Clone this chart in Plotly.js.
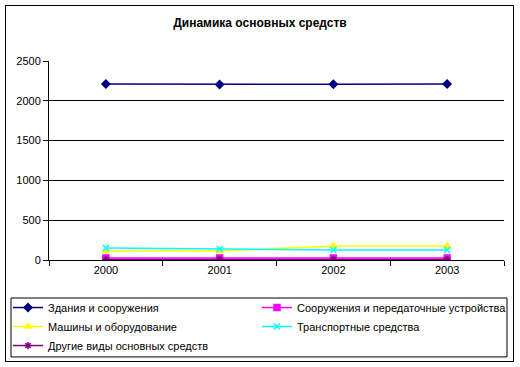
<!DOCTYPE html>
<html><head><meta charset="utf-8">
<script src="https://cdn.plot.ly/plotly-3.0.1.min.js"></script>
<style>body{margin:0;background:#fff}#wrap{position:relative;width:520px;height:367px}#chart{width:520px;height:367px}#frame{position:absolute;left:5px;top:5px;width:507px;height:355px;border:1px solid #000;pointer-events:none}</style>
</head><body><div id="wrap"><div id="chart"></div><div id="frame"></div></div>
<script>
const years = ['2000','2001','2002','2003'];
const seriesNames = ['Здания и сооружения','Сооружения и передаточные устройства','Машины и оборудование','Транспортные средства','Другие виды основных средств'];
const buildings = [2210, 2205, 2208, 2210];
const structures = [25, 25, 25, 25];
const machines = [112, 112, 175, 175];
const transport = [150, 138, 125, 125];
const other = [5, 5, 5, 5];
const yTicks = [0, 500, 1000, 1500, 2000, 2500];

const colors = ['#000080','#FF00FF','#FFFF00','#00FFFF','#800080'];
const symbols = ['diamond','square','triangle-up','x-thin-open','asterisk-open'];
const vals = [buildings, structures, machines, transport, other];
const traces = vals.map((v,i)=>({
  x: years, y: v, name: seriesNames[i], type:'scatter', mode:'lines+markers',
  line:{color:colors[i], width:1.5},
  marker:{symbol:symbols[i], color:colors[i], size:6, line:{color:colors[i], width:1.5}}
}));
const layout = {
  width:520, height:367,
  margin:{l:49, r:16, t:61, b:107, autoexpand:false},
  paper_bgcolor:'#fff', plot_bgcolor:'#fff',
  font:{family:'Liberation Sans, Arial, sans-serif', size:11, color:'#000'},
  title:{text:'<b>Динамика основных средств</b>', x:0.5, xref:'container', xanchor:'center', y:0.937, yref:'container', yanchor:'middle', font:{size:12}},
  showlegend:true,
  legend:{orientation:'h', x:-0.0901, xanchor:'left', y:-0.166, yanchor:'top', entrywidth:204, entrywidthmode:'pixels',
    bgcolor:'rgba(0,0,0,0)', borderwidth:0, font:{size:11}, tracegroupgap:0, itemwidth:30},
  shapes:[{type:'rect', xref:'paper', yref:'paper', x0:-0.0835, x1:1.0066, y0:-0.487, y1:-0.191,
    line:{color:'#000', width:1}, fillcolor:'rgba(0,0,0,0)', layer:'above'}],
  xaxis:{type:'category', range:[-0.5,3.5], showline:true, linecolor:'#000', linewidth:1, ticks:'outside', ticklen:5, tickcolor:'#000',
    tickson:'boundaries', showgrid:false, zeroline:false, fixedrange:true},
  yaxis:{range:[0,2500], tickvals:yTicks, showline:true, linecolor:'#000', linewidth:1, ticks:'outside', ticklen:5, tickcolor:'#000',
    showgrid:true, gridcolor:'#000', gridwidth:1, zeroline:false, fixedrange:true}
};
Plotly.newPlot('chart', traces, layout, {displayModeBar:false, staticPlot:true});
</script></body></html>
